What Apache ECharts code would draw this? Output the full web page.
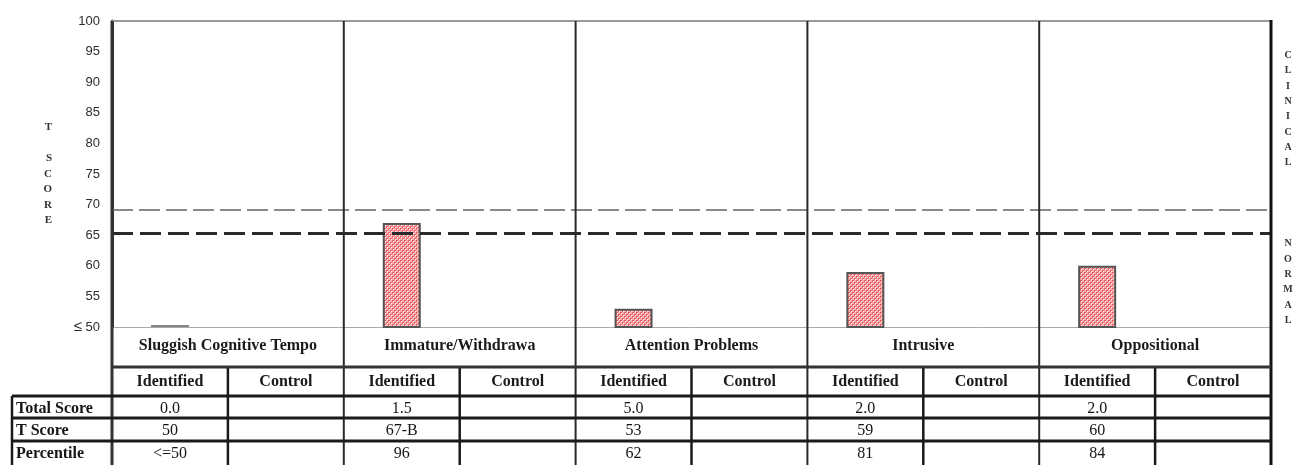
<!DOCTYPE html>
<html>
<head>
<meta charset="utf-8">
<script src="https://cdn.jsdelivr.net/npm/echarts@6/dist/echarts.min.js"></script>
<style>
html, body { margin: 0; padding: 0; background: #fff; }
#chart { width: 1299px; height: 465px; }
</style>
</head>
<body>
<div id="chart"></div>
<script>
// scale profile data
var domains = ['Sluggish Cognitive Tempo', 'Immature/Withdrawa', 'Attention Problems', 'Intrusive', 'Oppositional'];
var groups = ['Identified', 'Control'];
var identifiedT = [50, 67, 53, 59, 60];
var yTicks = [50, 55, 60, 65, 70, 75, 80, 85, 90, 95, 100];
var cutoffs = [69.2, 65.4]; // clinical / borderline dashed lines
var rowNames = ['Total Score', 'T Score', 'Percentile'];
var totalScore = ['0.0', '1.5', '5.0', '2.0', '2.0'];
var tScoreText = ['50', '67-B', '53', '59', '60'];
var percentile = ['<=50', '96', '62', '81', '84'];

var serif = '"Liberation Serif", "DejaVu Serif", serif';
var sans = '"Liberation Sans", Arial, sans-serif';

// red checkered fill used on the bars
function checkerPattern() {
    var c = document.createElement('canvas');
    c.width = 4;
    c.height = 4;
    var ctx = c.getContext('2d');
    ctx.fillStyle = '#f7b3b3';
    ctx.fillRect(0, 0, 4, 4);
    ctx.fillStyle = '#ee5f5f';
    ctx.fillRect(0, 0, 2, 2);
    ctx.fillRect(2, 2, 2, 2);
    ctx.fillStyle = '#ffffff';
    ctx.fillRect(1, 1, 1, 1);
    ctx.fillRect(3, 3, 1, 1);
    return c;
}

var cats = [];
var barData = [];
var floorData = []; // scores sitting on the axis floor get a flat marker
domains.forEach(function (d, i) {
    groups.forEach(function (g, j) {
        cats.push(g);
        barData.push(j === 0 ? identifiedT[i] : '-');
    });
    if (identifiedT[i] <= yTicks[0]) floorData.push([i * 2, identifiedT[i]]);
});

var chart = echarts.init(document.getElementById('chart'));
var option = {
    backgroundColor: '#fff',
    animation: false,
    grid: { left: 112, right: 28, top: 21, bottom: 138 },
    xAxis: [{
        type: 'category',
        data: cats,
        position: 'bottom',
        axisLine: { show: true, lineStyle: { color: '#aaa', width: 1 } },
        axisTick: { show: false },
        axisLabel: {
            interval: 0, margin: 47,
            fontFamily: serif, fontWeight: 'bold', fontSize: 16, color: '#1a1a1a'
        },
        splitLine: { show: false }
    }, {
        type: 'category',
        data: domains,
        position: 'bottom',
        axisLine: { show: false },
        axisTick: { show: false },
        axisLabel: {
            interval: 0, margin: 11,
            fontFamily: serif, fontWeight: 'bold', fontSize: 16, color: '#1a1a1a'
        },
        splitLine: { show: false }
    }],
    yAxis: {
        type: 'value',
        min: yTicks[0],
        max: yTicks[yTicks.length - 1],
        interval: 5,
        name: 'T\n\nS\nC\nO\nR\nE',
        nameLocation: 'middle',
        nameRotate: 0,
        nameGap: 60,
        nameTextStyle: {
            fontFamily: serif, fontWeight: 'bold', fontSize: 11, lineHeight: 15.5, color: '#333'
        },
        axisLine: { show: true, lineStyle: { color: '#333', width: 3 } },
        axisTick: { show: false },
        splitLine: { show: false },
        axisLabel: {
            margin: 12,
            fontFamily: sans, fontSize: 13, color: '#2e2e2e',
            formatter: function (v) {
                return v === yTicks[0] ? '{le|≤} ' + v : String(v);
            },
            rich: {
                le: { fontFamily: sans, fontSize: 15, color: '#222' }
            }
        }
    },
    series: [{
        type: 'bar',
        data: barData,
        barWidth: 38,
        itemStyle: {
            color: { image: checkerPattern(), repeat: 'repeat' },
            borderColor: '#555',
            borderWidth: 2
        },
        markLine: {
            silent: true,
            symbol: 'none',
            label: { show: false },
            data: [
                { yAxis: cutoffs[0], lineStyle: { color: '#8a8a8a', width: 2, type: [21, 6] } },
                { yAxis: cutoffs[1], lineStyle: { color: '#2a2a2a', width: 3, type: [21, 7] } }
            ]
        }
    }, {
        type: 'scatter',
        data: floorData,
        symbol: 'rect',
        symbolSize: [38, 2],
        symbolOffset: [0, -1],
        silent: true,
        itemStyle: { color: '#666' },
        z: 3
    }]
};
chart.setOption(option);

// table and frame drawn around the grid
var c0 = chart.convertToPixel({ xAxisIndex: 0 }, 0);
var c1 = chart.convertToPixel({ xAxisIndex: 0 }, 1);
var band = c1 - c0;
var x0 = c0 - band / 2;
var dw = band * 2;
var xEnd = x0 + dw * domains.length;
var yTop = chart.convertToPixel({ yAxisIndex: 0 }, yTicks[yTicks.length - 1]);
var yBase = chart.convertToPixel({ yAxisIndex: 0 }, yTicks[0]);
var H = 465;
var headLine = yBase + 40;
var rowTops = [yBase + 69, yBase + 91, yBase + 114];
var rowH = 23;
var tableLeft = 12;

var g = [];
function line(xa, ya, xb, yb, color, w) {
    g.push({ type: 'line', shape: { x1: xa, y1: ya, x2: xb, y2: yb }, style: { stroke: color, lineWidth: w }, z: 10 });
}
function text(str, x, y, align, bold, size) {
    g.push({
        type: 'text', x: x, y: y, z: 11,
        style: {
            text: str, fill: '#151515', align: align, verticalAlign: 'middle',
            font: (bold ? 'bold ' : '') + (size || 16) + 'px ' + serif
        }
    });
}

line(x0, yTop, xEnd, yTop, '#9a9a9a', 2);
line(x0, yTop, x0, H, '#333', 3);
for (var k = 1; k < domains.length; k++) {
    line(x0 + k * dw, yTop, x0 + k * dw, H, '#2a2a2a', 2);
}
line(xEnd, yTop - 1, xEnd, H, '#111', 3);
for (var k2 = 0; k2 < domains.length; k2++) {
    var xm = x0 + k2 * dw + band;
    line(xm, headLine, xm, H, '#1a1a1a', 2.5);
}
line(x0, headLine, xEnd, headLine, '#333', 3);
rowTops.forEach(function (ry) {
    line(tableLeft, ry, xEnd, ry, '#1a1a1a', 3);
});
line(tableLeft, rowTops[0], tableLeft, H, '#1a1a1a', 2.5);

var rows = [totalScore, tScoreText, percentile];
rows.forEach(function (vals, r) {
    var cy = rowTops[r] + rowH / 2 + 1;
    text(rowNames[r], tableLeft + 4, cy, 'left', true, 16);
    vals.forEach(function (v, i) {
        var cx = chart.convertToPixel({ xAxisIndex: 0 }, i * 2);
        text(v, cx, cy, 'center', false, 16);
    });
});

// side labels for the cut-off zones
function stacked(word, x, cy) {
    g.push({
        type: 'text', x: x, y: cy, z: 11,
        style: {
            text: word.split('').join('\n'), fill: '#333', align: 'center', verticalAlign: 'middle',
            font: 'bold 10px ' + serif, lineHeight: 15.3
        }
    });
}
stacked('CLINICAL', 1288, 109);
stacked('NORMAL', 1288, 282);

chart.setOption({ graphic: g });
</script>
</body>
</html>
